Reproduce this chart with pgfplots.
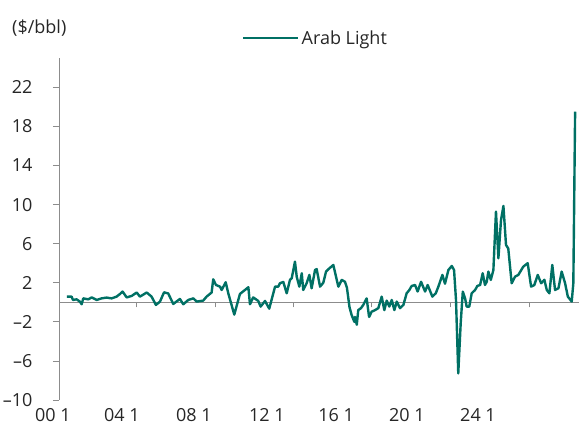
\documentclass[border=0pt]{standalone}
\usepackage{fontspec}
\setmainfont{Open Sans}
\usepackage{pgfplots}
\pgfplotsset{compat=1.18}
\definecolor{arab}{RGB}{0,112,100}
\definecolor{axgray}{RGB}{140,140,140}
\newcommand{\fs}{\fontsize{18}{21}\selectfont}
\begin{document}
\begin{tikzpicture}
\path[use as bounding box] (0pt,0pt) rectangle (579pt,426pt);
% zero line with tick marks
\begin{axis}[
  at={(59pt,26pt)}, anchor=south west,
  scale only axis, width=520pt, height=342pt,
  xmin=-4.9, xmax=316.4, ymin=-10, ymax=25,
  axis x line*=middle, axis y line=none,
  x axis line style={axgray, line width=0.8pt},
  xtick={-4.9,43.1,91.5,139.9,188.3,237.1,285.5},
  xticklabels={},
  tick align=outside, major tick length=5pt,
  x tick style={axgray, line width=0.8pt},
]
\end{axis}
\begin{axis}[
  at={(59pt,26pt)}, anchor=south west,
  scale only axis, width=520pt, height=342pt,
  xmin=-4.9, xmax=316.4, ymin=-10, ymax=25,
  axis y line*=left, axis x line*=bottom,
  x axis line style={draw=none},
  y axis line style={axgray, line width=0.8pt},
  ytick={-10,-6,-2,2,6,10,14,18,22},
  yticklabels={–10,–6,–2,2,6,10,14,18,22},
  xtick={-4.7,38,82.5,127.6,170.3,214.1,258},
  xticklabels={00 1,04 1,08 1,12 1,16 1,20 1,24 1},
  tick align=outside, major tick length=6pt,
  y tick style={axgray, line width=0.8pt},
  x tick style={draw=none},
  every tick label/.append style={font=\fs, text=black!85},
  yticklabel style={xshift=-17pt},
  xticklabel style={xshift=-6.5pt, yshift=1pt},
  legend style={draw=none, fill=none, at={(0.352,1.058)}, anchor=west,
    font=\fs, inner sep=0pt, text=black!85},
  legend image code/.code={\draw[#1] (0pt,0pt) -- (55pt,0pt);},
  clip=false,
]
\addplot[arab, line width=2.4pt, line join=round] coordinates {
(0,0.58) (2.9,0.58) (3.7,0.24) (6.0,0.3) (8.0,0.07) (9.1,-0.2) (10.1,0.4)
(13.2,0.3) (15.3,0.5) (18.4,0.24) (21.4,0.4) (24.5,0.48) (27.6,0.4) (30.7,0.58)
(32.8,0.85) (34.4,1.1) (36.9,0.5) (40.0,0.65) (43.1,1.0) (45.1,0.58) (49.3,1.0)
(52.3,0.58) (55.0,-0.27) (57.5,0.07) (60.0,1.02) (62.6,0.9) (65.7,-0.17)
(69.8,0.34) (71.9,-0.2) (75.0,0.24) (78.1,0.4) (80.2,0.07) (84.2,0.17)
(86.3,0.58) (89.4,1.0) (90.4,2.35) (92.1,1.77) (94.6,1.6) (95.6,1.26)
(98.1,2.05) (99.7,0.92) (103.4,-1.26) (106.9,0.85) (110.0,1.26) (112.1,1.54)
(113.1,-0.2) (115.1,0.5) (118.2,0.14) (119.7,-0.44) (122.4,0.14) (125.0,-0.65)
(128.6,1.6) (130.6,1.6) (131.6,1.95) (133.7,2.08) (135.8,0.92) (137.8,2.29)
(138.9,2.46) (140.9,4.16) (142.0,2.6) (143.6,1.6) (145.1,2.97) (146.0,1.26)
(148.1,1.95) (149.8,2.8) (151.2,1.43) (153.3,3.3) (154.3,3.4) (156.4,1.6)
(158.4,2.0) (160.1,3.14) (161.5,3.38) (164.6,3.82) (167.7,1.6) (169.8,2.29)
(171.8,2.1) (173.0,1.5) (174.6,-0.5) (175.9,-1.3) (177.6,-2.0) (178.0,-1.5)
(179.1,-2.3) (180.0,-0.8) (181.7,-0.6) (183.1,-0.27) (185.2,0.4) (186.7,-1.5)
(188.3,-0.96) (190.4,-0.8) (192.4,-0.6) (194.5,0.58) (196.1,-0.8) (197.6,0.17)
(199.2,-0.44) (200.7,0.24) (202.3,-0.8) (203.8,0.07) (205.8,-0.6) (207.9,-0.27)
(209.9,0.92) (211.6,1.26) (213.0,1.67) (215.1,1.77) (216.7,1.1) (218.8,2.1)
(221.3,1.1) (222.9,1.77) (225.8,0.58) (227.9,0.92) (229.5,1.6) (232.0,2.8)
(233.6,1.9) (235.7,3.3) (237.8,3.72) (239.2,3.3) (240.4,0.24) (241.8,-7.27)
(243.3,-2.15) (244.6,1.09) (246.0,0.41) (247.0,-0.44) (248.6,-0.44) (250.1,0.92)
(252.2,1.26) (253.6,1.67) (255.3,1.77) (256.9,2.97) (258.3,1.77) (259.4,2.1)
(260.4,3.14) (261.9,2.29) (263.5,3.3) (265.1,9.28) (266.6,4.5) (268.2,8.4)
(269.7,9.86) (271.3,5.87) (272.7,5.5) (274.8,1.95) (276.9,2.63) (278.9,2.8)
(282.0,3.65) (284.7,4.0) (286.8,1.6) (288.8,1.77) (290.9,2.8) (293.0,1.95)
(295.0,2.3) (296.5,1.26) (298.1,0.92) (299.9,3.82) (301.6,1.26) (303.7,1.43)
(305.7,3.14) (307.8,1.95) (309.5,0.58) (311.9,0.07) (312.9,1.95) (314.0,19.5)
};
\addlegendentry{Arab Light}
\end{axis}
\node[anchor=west, font=\fs, text=black!85, inner sep=0pt] at (12pt,398pt) {(\$/bbl)};
\end{tikzpicture}
\end{document}
